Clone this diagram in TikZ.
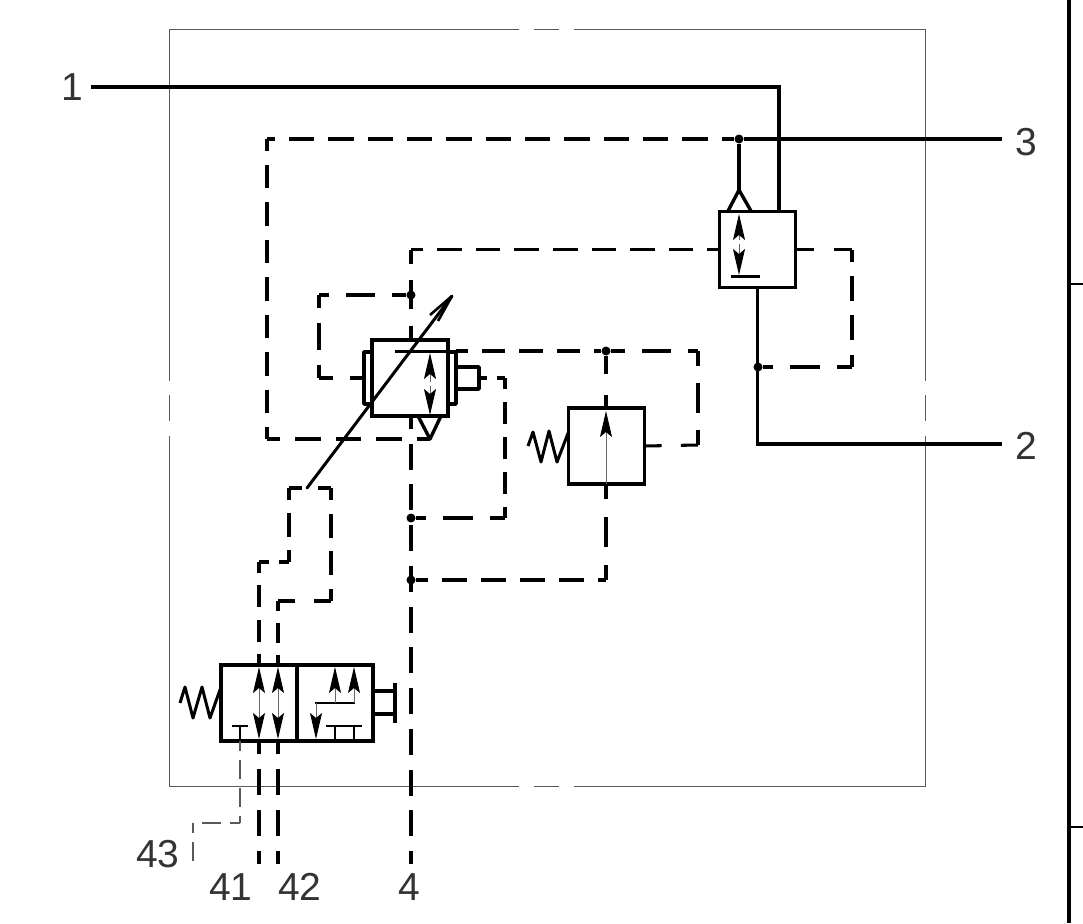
\documentclass[tikz,border=0pt]{standalone}
\usepackage{fontspec}
\setmainfont{Liberation Sans}
\usetikzlibrary{arrows.meta,calc}
\tikzset{
	,x = 1pt
	,y = -1pt
	,font = \fontsize{39}{39}\selectfont
	,frameline/.style = {draw=black!65, line width=1pt}
	,borderline/.style = {draw=black, line width=4pt}
	,mainline/.style  = {draw=black, line width=3.2pt}
	,boxline/.style   = {draw=black, line width=3.4pt, line join=round}
	,valvebox/.style  = {rectangle, draw=black, line width=3.6pt, minimum size=76pt, inner sep=0pt, outer sep=0pt}
	,pilotline/.style = {draw=black, line width=3.05pt}
	,thinpilot/.style = {draw=black!65, line width=1.1pt, dash pattern=on 19pt off 9pt, dash phase=9pt}
	,dotnode/.style   = {circle, fill=black, inner sep=0pt, minimum size=9pt}
	,portlabel/.style = {inner sep=0pt, text=black!80}
	,flowtip/.style   = {-{Stealth[black,length=26pt,width=12pt,inset=5pt]}, draw=black!60, line width=1pt}
	,shortbar/.style  = {draw=black, line width=3pt}
	,thinbar/.style   = {draw=black, line width=2.4pt}
}
% one straight piece of pilot line, half a dash at either end
\newcommand{\pilotseg}[2]{%
	\path let \p1=($(#2)-(#1)$), \n1={veclen(\x1,\y1)} in \pgfextra{%
		\pgfmathparse{max(1,round(\n1/40))}\let\pilotn\pgfmathresult
		\pgfmathparse{\n1/(\pilotn*40)}\let\pilots\pgfmathresult
		\pgfmathparse{25.5*\pilots}\xdef\piloton{\pgfmathresult pt}%
		\pgfmathparse{14.5*\pilots}\xdef\pilotoff{\pgfmathresult pt}%
		\pgfmathparse{12.75*\pilots}\xdef\pilotph{\pgfmathresult pt}};
	\draw[pilotline, dash pattern=on \piloton off \pilotoff, dash phase=\pilotph] (#1) -- (#2);
}
\begin{document}
\begin{tikzpicture}
	\useasboundingbox (0,0) rectangle (1083,923);
	% frame
	\draw[frameline] (519,30) -- (169,30) -- (169,381);
	\draw[frameline] (169,395) -- (169,421);
	\draw[frameline] (169,436) -- (169,786) -- (519,786);
	\draw[frameline] (534,30) -- (559,30);
	\draw[frameline] (534,786) -- (559,786);
	\draw[frameline] (574,30) -- (925,30) -- (925,381);
	\draw[frameline] (925,395) -- (925,421);
	\draw[frameline] (925,436) -- (925,786) -- (574,786);
	% right border
	\draw[borderline] (1069,0) -- (1069,923);
	\draw[draw=black, line width=2pt] (1069,284) -- (1083,284);
	\draw[draw=black, line width=2pt] (1069,827) -- (1083,827);
	% ports
	\node[portlabel] at (72,87) (p1) {1};
	\node[portlabel] at (1026,142) (p3) {3};
	\node[portlabel] at (1026,446) (p2) {2};
	\node[portlabel] at (158,854) (p43) {43};
	\node[portlabel] at (231,887) (p41) {41};
	\node[portlabel] at (300,887) (p42) {42};
	\node[portlabel] at (409,887) (p4) {4};
	% valves
	\node[valvebox] at (757.5,249.5) (vshuttle) {};
	\node[valvebox] at (410,378) (vmiddle) {};
	\node[valvebox] at (606.5,446) (vspring) {};
	\node[valvebox] at (259,703) (vleft) {};
	\node[valvebox] at (335,703) (vright) {};
	% junctions
	\node[dotnode] at (739,139) (j3) {};
	\node[dotnode] at (758,367) (j2) {};
	\node[dotnode] at (411,295) (ja) {};
	\node[dotnode] at (606,351) (jb) {};
	\node[dotnode] at (411,518) (jc) {};
	\node[dotnode] at (411,580) (jd) {};
	\coordinate (e1) at (91,87);
	\coordinate (e2) at (1002,444);
	\coordinate (e3) at (1002,139);
	\coordinate (c1) at (779,211);
	\coordinate (tipm) at (430,439);
	\coordinate (tips) at (739,190);
	% solid lines
	\draw[mainline] (e1) -- (779,87) -- (c1);
	\draw[mainline] (j3) -- (e3);
	\draw[mainline] (vshuttle.south) -- (757.5,444) -- (e2);
	\draw[mainline] (j3) -- (tips);
	% valve top right
	\draw[boxline] (728,211) -- (tips) -- (751,211);
	\draw[flowtip] (739,240) -- (739,214);
	\draw[flowtip] (739,244) -- (739,275);
	\draw[shortbar] (731,276) -- (760,276);
	% valve middle
	\draw[boxline] (372,352) -- (364,352) -- (364,404) -- (372,404);
	\draw[boxline] (448,352) -- (456,352) -- (456,404) -- (448,404);
	\draw[boxline] (456,367) -- (479,367) -- (479,389) -- (456,389);
	\draw[shortbar] (395,351) -- (456,351);
	\draw[boxline] (418,416) -- (tipm) -- (441,416);
	\draw[flowtip] (430,382) -- (430,353);
	\draw[flowtip] (430,386) -- (430,415);
	% valve lower right
	\draw[flowtip] (606,484) -- (606,411);
	\draw[boxline, line width=3pt] (vspring.west) ++(0,-14) -- (557,462) -- (549,431) -- (541,462) -- (533,432) -- (528,446);
	% valve bottom left
	\draw[boxline, line width=3pt] (vleft.west) ++(0,-16) -- (210,718) -- (202,687) -- (193,718) -- (185,687) -- (180,703);
	\draw[boxline] (373,691) -- (395,691);
	\draw[boxline] (373,714) -- (395,714);
	\draw[boxline] (395,683) -- (395,723);
	\draw[flowtip] (259,706) -- (259,667);
	\draw[flowtip] (278,706) -- (278,667);
	\draw[flowtip] (259,700) -- (259,739);
	\draw[flowtip] (278,700) -- (278,739);
	\draw[thinbar] (232,726) -- (248,726);
	\draw[thinbar] (240,726) -- (240,741);
	\draw[thinbar] (315,703) -- (355,703);
	\draw[flowtip] (335,703) -- (335,667);
	\draw[flowtip] (354,703) -- (354,667);
	\draw[flowtip] (316,703) -- (316,739);
	\draw[thinbar] (326,726) -- (345,726);
	\draw[thinbar] (335,726) -- (335,741);
	\draw[thinbar] (345,726) -- (362,726);
	\draw[thinbar] (354,726) -- (354,741);
	% adjust arrow
	\draw[draw=black, line width=3pt, line cap=round] (307,488) -- (452,296);
	\draw[draw=black, line width=2.6pt, line join=round] (430,315) -- (452,296) -- (438,321);
	% pilot lines
	\pilotseg{j3}{267,139}
	\pilotseg{267,139}{267,439}
	\pilotseg{267,439}{tipm}
	\pilotseg{vshuttle.west}{411,249.5}
	\pilotseg{411,249.5}{411,340}
	\pilotseg{vshuttle.east}{852,249.5}
	\pilotseg{852,249.5}{852,367}
	\pilotseg{852,367}{j2}
	\pilotseg{ja}{319,295}
	\pilotseg{319,295}{319,378}
	\pilotseg{319,378}{364,378}
	\pilotseg{456,351}{jb}
	\pilotseg{jb}{698,351}
	\pilotseg{698,351}{698,445}
	\pilotseg{698,445}{vspring.east}
	\pilotseg{jb}{606,408}
	\pilotseg{479,378}{505,378}
	\pilotseg{505,378}{505,518}
	\pilotseg{505,518}{jc}
	\pilotseg{411,416}{411,864}
	\pilotseg{jd}{606,580}
	\pilotseg{606,580}{606,484}
	\pilotseg{259,665}{259,562}
	\pilotseg{259,562}{289,562}
	\pilotseg{289,562}{289,488}
	\pilotseg{289,488}{331,488}
	\pilotseg{331,488}{331,601}
	\pilotseg{331,601}{278,601}
	\pilotseg{278,601}{278,665}
	\pilotseg{259,741}{259,864}
	\pilotseg{278,741}{278,864}
	\draw[thinpilot] (240,741) -- (240,823);
	\draw[thinpilot] (240,823) -- (193,823);
	\draw[thinpilot] (193,823) -- (193,863);
\end{tikzpicture}
\end{document}
